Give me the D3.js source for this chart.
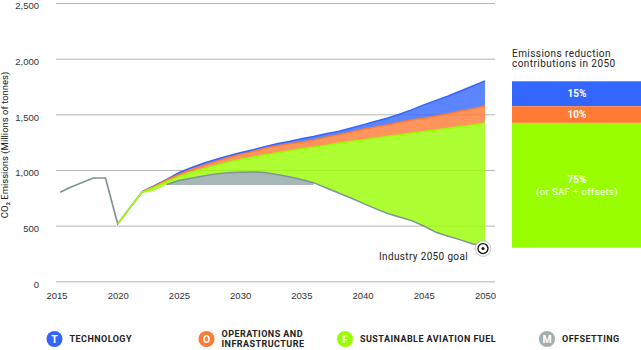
<!DOCTYPE html>
<html>
<head>
<meta charset="utf-8">
<script src="https://cdnjs.cloudflare.com/ajax/libs/d3/7.8.5/d3.min.js"></script>
<style>
  body { margin: 0; background: #fff; }
  svg { display: block; font-family: Roboto, sans-serif; }
</style>
</head>
<body>
<div id="chart"></div>
<script>
// history
const historyYears = [2015.3, 2016, 2018, 2019, 2020, 2021, 2022];
const historyValues = [800, 838, 928, 928, 515, 660, 805];

// scenario wedges, one value per year from 2022 to 2050
const years = d3.range(2022, 2051);
const technology = [805, 860, 915, 975, 1020, 1060, 1095, 1125, 1155, 1180, 1210, 1235, 1255, 1280, 1300, 1325, 1345, 1375, 1405, 1435, 1465, 1500, 1540, 1585, 1625, 1665, 1710, 1755, 1800];
const operations = [803, 855, 910, 960, 1005, 1040, 1075, 1110, 1140, 1165, 1195, 1215, 1235, 1250, 1270, 1295, 1315, 1340, 1365, 1385, 1405, 1428, 1448, 1465, 1485, 1505, 1530, 1550, 1575];
const saf = [800, 845, 895, 940, 980, 1010, 1040, 1070, 1095, 1115, 1135, 1155, 1170, 1190, 1205, 1220, 1240, 1255, 1270, 1285, 1300, 1315, 1330, 1345, 1360, 1375, 1390, 1405, 1422];
const offset = [790, 815, 870, 905, 925, 945, 965, 975, 980, 982, 978, 960, 940, 915, 886, 840, 795, 750, 702, 655, 612, 578, 545, 497, 440, 405, 372, 335, 315];
const offsetFloor = 865;

const yTicks = [0, 500, 1000, 1500, 2000, 2500];
const xTicks = [2015, 2020, 2025, 2030, 2035, 2040, 2045, 2050];

const barLabels = ["15%", "10%", "75%"];
const barShares = [15, 10, 75];
const legendKeys = ["T", "O", "F", "M"];
const legendNames = [["TECHNOLOGY"], ["OPERATIONS AND", "INFRASTRUCTURE"], ["SUSTAINABLE AVIATION FUEL"], ["OFFSETTING"]];

const blue = "#3366ff", orange = "#ff7a33", green = "#99ff00", grey = "#7f9495";

const svg = d3.select("#chart").append("svg")
    .attr("width", 641)
    .attr("height", 350);

const x = d3.scaleLinear().domain([2015, 2050]).range([56.5, 485]);
const y = d3.scaleLinear().domain([0, 2500]).range([281.3, 3]);

// gridlines and y labels
const yAxis = svg.append("g")
    .attr("transform", "translate(56,0)")
    .call(d3.axisLeft(y).tickValues(yTicks).tickFormat(d3.format(",")).tickSize(-439).tickPadding(17));
yAxis.select(".domain").remove();
yAxis.selectAll("line").attr("stroke", "#b4b4b4").attr("stroke-width", 1);
yAxis.selectAll("text").attr("dy", "0.62em").attr("fill", "#333").attr("font-size", 9.5)
    .attr("font-family", "Liberation Sans, sans-serif");

// x labels
const xAxis = svg.append("g")
    .attr("transform", "translate(0,281)")
    .call(d3.axisBottom(x).tickValues(xTicks).tickFormat(d3.format("d")).tickSize(0).tickPadding(11));
xAxis.select(".domain").remove();
xAxis.selectAll("text").attr("fill", "#333").attr("font-size", 9.5);

function band(top, bottom, color) {
    const area = d3.area()
        .x(function(d) { return x(d); })
        .y0(function(d, i) { return y(bottom[i]); })
        .y1(function(d, i) { return y(top[i]); });
    svg.append("path").datum(years)
        .attr("d", area)
        .attr("fill", color)
        .attr("fill-opacity", 0.8);
}
function topLine(top, color, width) {
    const line = d3.line()
        .x(function(d) { return x(d); })
        .y(function(d, i) { return y(top[i]); });
    svg.append("path").datum(years)
        .attr("d", line)
        .attr("fill", "none")
        .attr("stroke", color)
        .attr("stroke-width", width);
}

band(technology, operations, blue);
band(operations, saf, orange);
band(saf, offset, green);

// offsetting wedge only shows while the curve is above the floor
const greyYears = d3.range(2024, 2037);
const greyTop = greyYears.map(function(d) { return offset[years.indexOf(d)]; });
svg.append("path").datum(greyYears)
    .attr("d", d3.area()
        .x(function(d) { return x(d); })
        .y0(y(offsetFloor))
        .y1(function(d, i) { return y(greyTop[i]); }))
    .attr("fill", "#92a5a5")
    .attr("fill-opacity", 0.8);

topLine(technology, blue, 1.5);
topLine(operations, orange, 1.5);
topLine(saf, green, 1.5);

// history line
svg.append("path").datum(historyYears)
    .attr("d", d3.line()
        .x(function(d) { return x(d); })
        .y(function(d, i) { return y(historyValues[i]); }))
    .attr("fill", "none")
    .attr("stroke", grey)
    .attr("stroke-width", 1.7);

// green recovery leg over the history line
svg.append("path").datum(historyYears.slice(4))
    .attr("d", d3.line()
        .x(function(d) { return x(d); })
        .y(function(d, i) { return y(historyValues[i + 4]); }))
    .attr("fill", "none")
    .attr("stroke", green)
    .attr("stroke-width", 1.5);

// offset curve
const lineYears = d3.range(2024, 2051);
svg.append("path").datum(lineYears)
    .attr("d", d3.line()
        .x(function(d) { return x(d); })
        .y(function(d) { return y(offset[years.indexOf(d)]); }))
    .attr("fill", "none")
    .attr("stroke", grey)
    .attr("stroke-width", 1.5);

// goal marker
const goal = svg.append("g")
    .attr("transform", "translate(" + (x(2050) - 2) + "," + (y(offset[offset.length - 1]) + 2.3) + ")");
goal.append("circle").attr("r", 7.8).attr("fill", "#fff").attr("stroke", "#aaa").attr("stroke-width", 0.7);
goal.append("circle").attr("r", 5).attr("fill", "#fff").attr("stroke", "#111").attr("stroke-width", 1.3);
goal.append("circle").attr("r", 1.5).attr("fill", "#111");

svg.append("text")
    .attr("x", 379).attr("y", 260)
    .attr("font-size", 10).attr("letter-spacing", 0.35).attr("fill", "#222")
    .text("Industry 2050 goal");

// y axis title
svg.append("text")
    .attr("transform", "translate(8,145) rotate(-90)")
    .attr("text-anchor", "middle")
    .attr("font-size", 9.5).attr("fill", "#222")
    .text("CO₂ Emissions (Millions of tonnes)");

// contribution bar
const barY = d3.scaleLinear().domain([100, 0]).range([81.3, 247.7]);
const barColors = [blue, orange, green];
let cumulative = 100;
barShares.forEach(function(share, i) {
    const top = cumulative, bottom = cumulative - share;
    cumulative = bottom;
    svg.append("rect")
        .attr("x", 512).attr("width", 129)
        .attr("y", barY(top))
        .attr("height", barY(bottom) - barY(top))
        .attr("fill", barColors[i]);
    const labelY = i === 2 ? barY(top) + 60 : (barY(top) + barY(bottom)) / 2 + 3.5;
    svg.append("text")
        .attr("x", 577).attr("y", labelY)
        .attr("text-anchor", "middle")
        .attr("font-size", 10).attr("font-weight", 700).attr("fill", "#fff")
        .text(barLabels[i]);
});
svg.append("text")
    .attr("x", 577).attr("y", 195)
    .attr("text-anchor", "middle")
    .attr("font-size", 9.5).attr("letter-spacing", 0.4).attr("fill", "#fff")
    .text("(or SAF + offsets)");

svg.append("text").attr("x", 512).attr("y", 56.5)
    .attr("font-size", 10).attr("letter-spacing", 0.45).attr("fill", "#222")
    .text("Emissions reduction");
svg.append("text").attr("x", 512).attr("y", 67)
    .attr("font-size", 10).attr("letter-spacing", 0.45).attr("fill", "#222")
    .text("contributions in 2050");

// legend
const legendX = [54.5, 206.5, 345, 547];
const legendColors = [blue, orange, green, "#a0aeae"];
legendKeys.forEach(function(key, i) {
    const g = svg.append("g").attr("transform", "translate(" + legendX[i] + ",339)");
    g.append("circle").attr("r", 8).attr("fill", legendColors[i]);
    g.append("text").attr("y", 3.7).attr("text-anchor", "middle")
        .attr("font-size", 10.5).attr("font-weight", 700).attr("fill", "#fff")
        .text(key);
    const names = legendNames[i];
    names.forEach(function(name, j) {
        g.append("text")
            .attr("x", 15)
            .attr("y", names.length === 1 ? 3.2 : -2.2 + j * 10.2)
            .attr("font-size", 9).attr("font-weight", 700).attr("letter-spacing", 0.45).attr("fill", "#222")
            .text(name);
    });
});
</script>
</body>
</html>
